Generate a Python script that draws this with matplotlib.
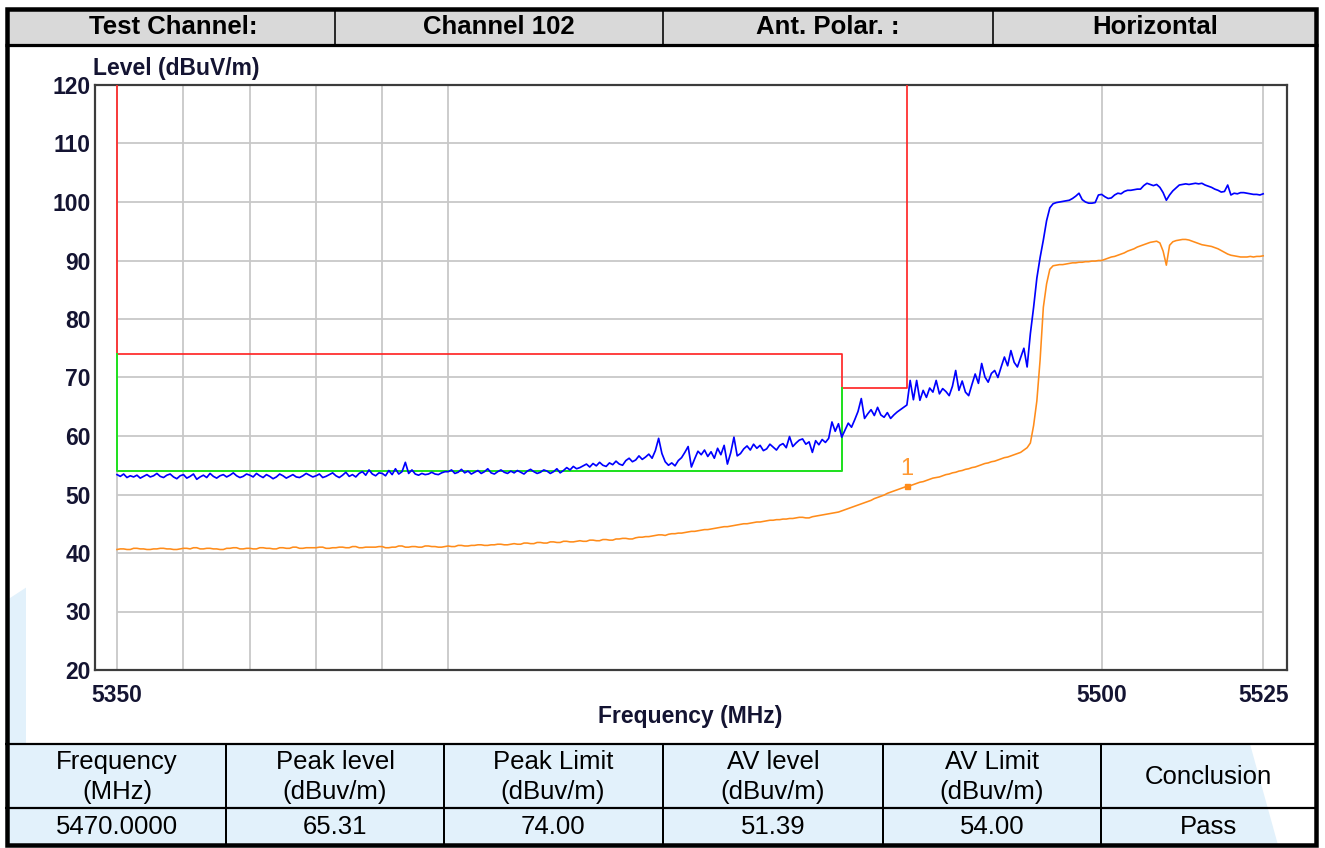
import numpy as np
import matplotlib
matplotlib.use("Agg")
import matplotlib.pyplot as plt
from matplotlib.patches import Rectangle, Polygon

# ---------------- data ----------------
freq_start, freq_stop, freq_step = 5350.0, 5525.0, 0.5
peak_level = [
    # 5350 - 5359.5
    53.4, 53.1, 53.5, 52.9, 53.2, 53.0, 53.3, 52.8, 53.1, 53.4, 53.0, 53.2, 53.6, 53.1, 52.9, 53.3, 53.5, 53.0, 52.7, 53.2,
    # 5360
    53.4, 52.8, 53.1, 53.5, 52.6, 53.0, 53.3, 52.9, 53.6, 53.1, 52.8, 53.2, 53.4, 53.0, 53.3, 53.7, 53.2, 52.9, 53.1, 53.5,
    # 5370
    53.3, 53.0, 53.6, 53.2, 52.9, 53.4, 53.1, 52.7, 53.0, 53.5, 53.2, 52.8, 53.1, 53.4, 53.0, 52.9, 53.2, 53.6, 53.3, 53.0,
    # 5380
    53.2, 53.5, 52.9, 53.1, 53.4, 53.7, 53.2, 52.9, 53.3, 53.8, 53.1, 53.4, 53.0, 53.6, 53.9, 53.3, 54.2, 53.5, 53.2, 53.7,
    # 5390
    53.6, 53.2, 54.1, 53.4, 54.4, 53.5, 53.9, 55.5, 53.6, 54.2, 53.5, 53.3, 53.6, 53.4, 53.5, 53.8, 53.5, 53.4, 53.7, 53.9,
    # 5400
    53.9, 54.2, 53.6, 53.8, 54.3, 53.7, 54.0, 53.5, 53.8, 54.1, 53.6, 53.9, 54.4, 53.7, 53.5, 53.9, 54.2, 53.8, 53.6, 54.0,
    # 5410
    53.7, 54.1, 53.8, 53.5, 54.0, 54.3, 53.9, 53.6, 53.8, 54.2, 54.0, 53.6, 53.9, 54.4, 53.7, 54.1, 54.6, 54.2, 54.8, 54.4,
    # 5420
    54.6, 54.9, 55.2, 54.7, 55.3, 54.9, 55.5, 55.0, 54.8, 55.4, 55.1, 55.7, 55.2, 55.0, 55.8, 56.2, 55.6, 55.9, 56.6, 56.0,
    # 5430
    56.4, 56.9, 56.2, 57.5, 59.6, 57.0, 55.6, 55.0, 55.4, 54.9, 55.8, 56.3, 57.2, 58.2, 54.7, 56.1, 57.4, 56.8, 57.6, 56.5,
    # 5440
    57.3, 56.2, 57.9, 56.8, 58.4, 55.2, 57.1, 59.8, 56.6, 57.0, 57.8, 58.3, 57.6, 58.6, 57.9, 58.4, 57.5, 57.8, 58.6, 58.1,
    # 5450
    57.6, 58.4, 58.7, 58.0, 59.9, 58.2, 58.8, 59.3, 59.5, 58.6, 59.0, 57.2, 59.2, 58.5, 59.4, 58.9, 59.6, 62.4, 60.8, 62.1,
    # 5460
    59.8, 61.0, 62.2, 61.5, 62.8, 64.2, 66.4, 63.0, 63.8, 64.5, 63.5, 64.9, 63.6, 63.2, 64.0, 63.0, 63.6, 64.1, 64.5, 64.9,
    # 5470
    65.3, 69.5, 66.2, 69.5, 66.1, 67.8, 66.6, 68.2, 67.5, 69.5, 67.2, 68.1, 67.6, 66.9, 68.5, 71.2, 67.8, 69.4, 67.5, 66.9,
    # 5480
    68.8, 70.6, 69.0, 72.4, 70.1, 69.2, 70.7, 71.2, 70.0, 71.8, 73.5, 72.0, 74.6, 72.6, 71.8, 73.4, 75.0, 71.8, 77.5, 82.0,
    # 5490
    87.0, 90.5, 93.5, 96.8, 99.0, 99.7, 99.9, 100.0, 100.1, 100.2, 100.3, 100.6, 101.0, 101.5, 100.4, 100.0, 99.8, 99.8, 99.9, 101.2,
    # 5500
    101.3, 100.9, 100.6, 100.7, 101.2, 101.5, 101.4, 101.8, 102.0, 102.0, 102.1, 102.2, 102.2, 102.8, 103.2, 103.0, 102.8, 103.0, 102.5, 101.6,
    # 5510
    100.3, 101.2, 101.9, 102.4, 102.9, 103.0, 103.1, 103.0, 103.1, 103.2, 103.1, 103.2, 102.9, 102.7, 102.5, 102.2, 102.0, 101.7, 101.8, 102.9,
    # 5520 - 5525
    101.2, 101.5, 101.4, 101.6, 101.6, 101.5, 101.4, 101.3, 101.3, 101.2, 101.4,
]
av_level = [
    # 5350
    40.6, 40.7, 40.7, 40.6, 40.6, 40.8, 40.8, 40.7, 40.7, 40.6, 40.6, 40.7, 40.7, 40.8, 40.8, 40.7, 40.7, 40.6, 40.6, 40.7,
    # 5360
    40.8, 40.8, 40.7, 40.9, 40.9, 40.7, 40.7, 40.8, 40.8, 40.7, 40.7, 40.6, 40.6, 40.8, 40.8, 40.9, 40.9, 40.7, 40.7, 40.8,
    # 5370
    40.8, 40.7, 40.7, 40.9, 40.9, 40.8, 40.8, 40.7, 40.7, 40.9, 40.9, 40.8, 40.8, 41.0, 41.0, 40.8, 40.8, 40.9, 40.9, 40.9,
    # 5380
    40.9, 41.0, 41.0, 40.8, 40.8, 40.9, 40.9, 41.0, 41.0, 40.9, 40.9, 41.1, 41.1, 40.9, 40.9, 41.0, 41.0, 41.0, 41.0, 41.1,
    # 5390
    41.1, 40.9, 40.9, 41.0, 41.0, 41.2, 41.2, 41.0, 41.0, 41.1, 41.1, 41.0, 41.0, 41.2, 41.2, 41.1, 41.1, 41.0, 41.0, 41.1,
    # 5400
    41.2, 41.1, 41.1, 41.3, 41.3, 41.2, 41.2, 41.3, 41.3, 41.4, 41.4, 41.3, 41.3, 41.4, 41.4, 41.5, 41.5, 41.4, 41.4, 41.5,
    # 5410
    41.6, 41.5, 41.5, 41.7, 41.7, 41.6, 41.6, 41.8, 41.8, 41.7, 41.7, 41.9, 41.9, 41.8, 41.8, 42.0, 42.0, 41.9, 41.9, 42.0,
    # 5420
    42.1, 42.0, 42.0, 42.2, 42.2, 42.1, 42.1, 42.3, 42.3, 42.2, 42.2, 42.4, 42.4, 42.5, 42.5, 42.4, 42.4, 42.6, 42.7, 42.7,
    # 5430
    42.8, 42.8, 42.9, 43.0, 43.1, 43.1, 43.0, 43.2, 43.3, 43.3, 43.4, 43.4, 43.5, 43.6, 43.7, 43.7, 43.8, 43.9, 44.0, 44.0,
    # 5440
    44.1, 44.2, 44.3, 44.4, 44.5, 44.5, 44.6, 44.7, 44.8, 44.9, 45.0, 45.0, 45.1, 45.2, 45.3, 45.3, 45.4, 45.5, 45.6, 45.6,
    # 5450
    45.7, 45.7, 45.8, 45.8, 45.9, 45.9, 46.0, 46.1, 46.1, 46.0, 46.0, 46.2, 46.3, 46.4, 46.5, 46.6, 46.7, 46.8, 46.9, 47.0,
    # 5460
    47.2, 47.4, 47.6, 47.8, 48.0, 48.2, 48.4, 48.6, 48.8, 49.0, 49.3, 49.5, 49.7, 49.9, 50.2, 50.4, 50.6, 50.8, 51.0, 51.2,
    # 5470
    51.4, 51.5, 51.7, 51.9, 52.1, 52.2, 52.4, 52.6, 52.8, 52.9, 53.0, 53.2, 53.4, 53.5, 53.7, 53.8, 54.0, 54.1, 54.3, 54.4,
    # 5480
    54.6, 54.7, 54.9, 55.1, 55.3, 55.4, 55.6, 55.7, 55.9, 56.1, 56.3, 56.4, 56.6, 56.8, 57.0, 57.2, 57.6, 58.0, 58.8, 61.8,
    # 5490
    66.0, 73.0, 82.0, 86.0, 88.5, 89.1, 89.2, 89.3, 89.3, 89.4, 89.5, 89.6, 89.6, 89.7, 89.7, 89.8, 89.8, 89.9, 89.9, 90.0,
    # 5500
    90.0, 90.2, 90.4, 90.6, 90.7, 90.9, 91.1, 91.3, 91.6, 91.8, 92.0, 92.3, 92.5, 92.7, 92.9, 93.1, 93.2, 93.3, 93.0, 91.6,
    # 5510
    89.2, 92.6, 93.2, 93.4, 93.5, 93.6, 93.6, 93.5, 93.3, 93.1, 92.9, 92.7, 92.6, 92.5, 92.4, 92.2, 92.0, 91.7, 91.4, 91.1,
    # 5520 - 5525
    90.9, 90.8, 90.7, 90.6, 90.6, 90.6, 90.7, 90.6, 90.7, 90.7, 90.8,
]
# limit lines (frequency, level) corner points
peak_limit_freq = [5350, 5350, 5460, 5460, 5470, 5470]
peak_limit_level = [120, 74, 74, 68.2, 68.2, 120]
av_limit_freq = [5350, 5350, 5460, 5460]
av_limit_level = [74, 54, 54, 68.2]
marker_freq, marker_level = 5470.0, 51.39

y_ticks = [20, 30, 40, 50, 60, 70, 80, 90, 100, 110, 120]
x_ticks = [5350, 5500, 5525]
x_grid = [5350, 5360, 5370, 5380, 5390, 5400, 5500, 5525]

header_cells = ["Test Channel:", "Channel 102", "Ant. Polar. :", "Horizontal"]
table_head = ["Frequency\n(MHz)", "Peak level\n(dBuv/m)", "Peak Limit\n(dBuv/m)",
              "AV level\n(dBuv/m)", "AV Limit\n(dBuv/m)", "Conclusion"]
table_row = ["5470.0000", "65.31", "74.00", "51.39", "54.00", "Pass"]

# ---------------- figure ----------------
W, H = 1325, 848
plt.rcParams['font.family'] = ['Liberation Sans', 'DejaVu Sans']
fig = plt.figure(figsize=(W / 100, H / 100), dpi=100)
fig.patch.set_facecolor('white')

def px(v):  # pixel -> points
    return v * 72 / 100

bg = fig.add_axes([0, 0, 1, 1], zorder=0)
bg.set_xlim(0, W)
bg.set_ylim(H, 0)
bg.axis('off')

# faint watermark behind the table area
wm = '#e2f1fb'
bg.add_patch(Polygon([(7, 600), (30, 585), (62, 575), (62, 845), (7, 845)], closed=True,
                     facecolor=wm, edgecolor='none', zorder=0))
bg.add_patch(Polygon([(62, 744), (1250, 744), (1278, 845), (62, 845)], closed=True,
                     facecolor=wm, edgecolor='none', zorder=0))
# white chart area
bg.add_patch(Rectangle((26, 45), 1271, 698, facecolor='white', edgecolor='none', zorder=0.5))

# header row
bg.add_patch(Rectangle((7, 8), 1309, 36.5, facecolor='#d9d9d9', edgecolor='none'))
for xs in [335, 663, 993]:
    bg.plot([xs, xs], [8, 44], color='black', lw=px(1.6), solid_capstyle='butt')
bg.plot([5, 1318], [44.5, 44.5], color='black', lw=px(3.2), solid_capstyle='butt')
hdr_x = [173, 499, 828, 1155]
for t, xc in zip(header_cells, hdr_x):
    bg.text(xc, 26.5, t, ha='center', va='center', fontsize=18.5, fontweight='bold', color='black')

# bottom table
bg.plot([5, 1318], [743.5, 743.5], color='black', lw=px(2.2), solid_capstyle='butt')
bg.plot([5, 1318], [808, 808], color='black', lw=px(2.2), solid_capstyle='butt')
for xs in [226, 444, 663, 883, 1101]:
    bg.plot([xs, xs], [743, 845], color='black', lw=px(2.0), solid_capstyle='butt')
col_x = [117, 335, 553, 773, 992, 1208]
for t, xc in zip(table_head, col_x):
    bg.text(xc, 777, t, ha='center', va='center', fontsize=18.5, color='black', linespacing=1.35)
for t, xc in zip(table_row, col_x):
    bg.text(xc, 827.5, t, ha='center', va='center', fontsize=18.5, color='black')

# outer border
bg.add_patch(Rectangle((7, 8.5), 1309, 836, facecolor='none', edgecolor='black', lw=px(4.5)))

# axis labels (figure level text)
txt_col = '#141432'
bg.text(93, 69, "Level (dBuV/m)", ha='left', va='center', fontsize=16.5, fontweight='bold', color=txt_col)
bg.text(690, 716, "Frequency (MHz)", ha='center', va='center', fontsize=16.5, fontweight='bold', color=txt_col)

# ---------------- plot ----------------
ax = fig.add_axes([95 / W, 1 - 670 / H, (1287 - 95) / W, (670 - 85) / H], zorder=2)
ax.patch.set_alpha(0)
ax.set_xscale('log')
ax.set_xlim(5346.7, 5528.7)
ax.set_ylim(20, 120)

grid_c = '#c8c8c8'
ax.hlines(y_ticks[1:-1], freq_start, freq_stop, colors=grid_c, lw=px(1.8), zorder=1)
ax.vlines(x_grid, 20, 120, colors=grid_c, lw=px(1.8), zorder=1)

freq = np.arange(freq_start, freq_stop + freq_step / 2, freq_step)
ax.plot(peak_limit_freq, peak_limit_level, color='#ff2424', lw=px(1.7), zorder=3)
ax.plot(av_limit_freq, av_limit_level, color='#22e022', lw=px(2.0), zorder=3)
ax.plot(freq, av_level, color='#ff8c1a', lw=px(1.6), zorder=4)
ax.plot(freq, peak_level, color='#0000ff', lw=px(1.7), zorder=5)
ax.plot([marker_freq], [marker_level], marker='s', ms=px(5), color='#ff8c1a', zorder=6)
ax.text(marker_freq, marker_level + 2.9, "1", ha='center', va='center', fontsize=17, color='#ff9933', zorder=6)

ax.xaxis.set_minor_locator(matplotlib.ticker.NullLocator())
ax.set_xticks(x_ticks)
ax.set_xticklabels([str(v) for v in x_ticks])
ax.set_yticks(y_ticks)
ax.set_yticklabels([str(v) for v in y_ticks])
ax.tick_params(axis='both', length=0, labelsize=16.5, labelcolor=txt_col)
ax.tick_params(axis='x', pad=10)
ax.tick_params(axis='y', pad=3)
for lab in ax.get_xticklabels() + ax.get_yticklabels():
    lab.set_fontweight('bold')
for sp in ax.spines.values():
    sp.set_color('#3c3c3c')
    sp.set_linewidth(px(2.2))

fig.savefig('out.png', dpi=100, facecolor='white')
